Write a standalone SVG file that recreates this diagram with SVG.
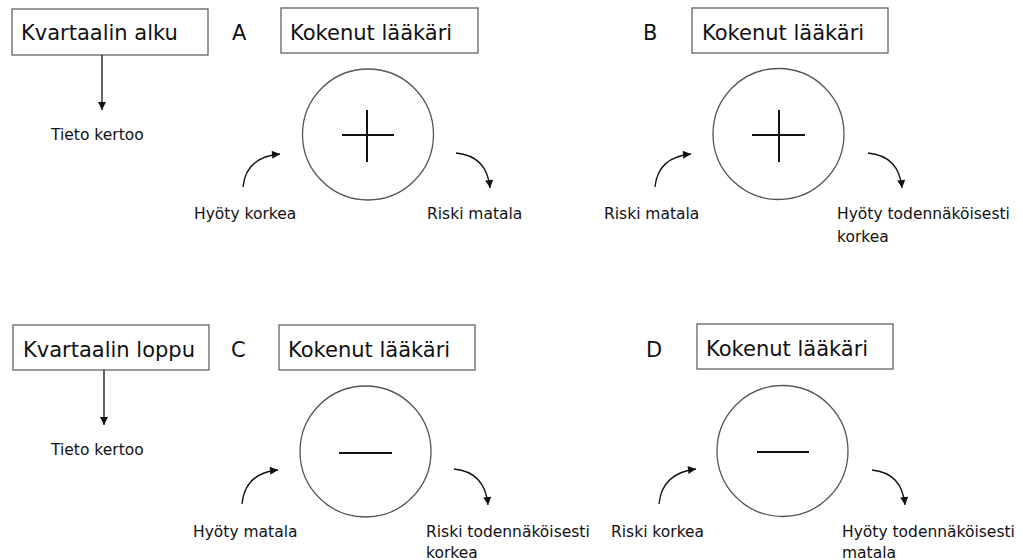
<svg xmlns="http://www.w3.org/2000/svg" width="1023" height="560" viewBox="0 0 1023 560">
<style>
.box{fill:#fff;stroke:#555;stroke-width:1.2}
.big{font-family:"DejaVu Sans",sans-serif;font-size:21px;fill:#111}
.sm{font-family:"DejaVu Sans",sans-serif;font-size:15.5px;fill:#111}
.circ{fill:#fff;stroke:#555;stroke-width:1.3}
.sym{stroke:#111;stroke-width:2;fill:none}
.conn{stroke:#111;stroke-width:1.3;fill:none;marker-end:url(#ah)}
</style>
<defs>
<marker id="ah" viewBox="0 0 10 10" refX="10" refY="5" markerUnits="userSpaceOnUse" markerWidth="9" markerHeight="8" orient="auto">
<path d="M0,0 L10,5 L0,10 z" fill="#111"/>
</marker>
</defs>
<rect width="1023" height="560" fill="#fff"/>
<g id="start-top"><rect class="box" x="12" y="9" width="196" height="46"/><text class="big" x="21" y="40">Kvartaalin alku</text></g>
<g id="start-bottom"><rect class="box" x="13" y="325" width="196" height="45"/><text class="big" x="23" y="357">Kvartaalin loppu</text></g>
<g id="info-top"><text class="sm" x="51" y="140">Tieto kertoo</text></g>
<g id="info-bottom"><text class="sm" x="51" y="455">Tieto kertoo</text></g>
<g id="label-A"><text class="big" x="232" y="40">A</text></g>
<g id="label-B"><text class="big" x="643" y="40">B</text></g>
<g id="label-C"><text class="big" x="231" y="357">C</text></g>
<g id="label-D"><text class="big" x="646" y="357">D</text></g>
<g id="doctor-A"><rect class="box" x="281" y="8" width="197" height="45"/><text class="big" x="290" y="40">Kokenut lääkäri</text></g>
<g id="doctor-B"><rect class="box" x="692" y="8" width="196" height="45"/><text class="big" x="702" y="40">Kokenut lääkäri</text></g>
<g id="doctor-C"><rect class="box" x="279" y="325" width="196" height="45"/><text class="big" x="288" y="357">Kokenut lääkäri</text></g>
<g id="doctor-D"><rect class="box" x="697" y="324" width="196" height="45"/><text class="big" x="706" y="356">Kokenut lääkäri</text></g>
<g id="circle-A"><circle class="circ" cx="368" cy="134.5" r="65.5"/><path class="sym" d="M342,135 H394 M367,110 V162"/></g>
<g id="circle-B"><circle class="circ" cx="778.5" cy="134" r="65.5"/><path class="sym" d="M752,135 H805 M779,110 V162"/></g>
<g id="circle-C"><circle class="circ" cx="365.5" cy="451.5" r="65.5"/><path class="sym" d="M339,453 H392"/></g>
<g id="circle-D"><circle class="circ" cx="782.5" cy="451" r="65.5"/><path class="sym" d="M757,452 H809"/></g>
<g id="texts-A"><text class="sm" x="194" y="219">Hyöty korkea</text><text class="sm" x="427" y="219">Riski matala</text></g>
<g id="texts-B"><text class="sm" x="604" y="219">Riski matala</text><text class="sm" x="837" y="219">Hyöty todennäköisesti</text><text class="sm" x="837" y="242">korkea</text></g>
<g id="texts-C"><text class="sm" x="193" y="537">Hyöty matala</text><text class="sm" x="426" y="537">Riski todennäköisesti</text><text class="sm" x="426" y="558">korkea</text></g>
<g id="texts-D"><text class="sm" x="611" y="537">Riski korkea</text><text class="sm" x="842" y="537">Hyöty todennäköisesti</text><text class="sm" x="842" y="558">matala</text></g>
<g id="connectors">
<path class="conn" d="M102,55 V110"/>
<path class="conn" d="M104,370 V425"/>
<path class="conn" d="M243,187 Q246,157 280,154"/>
<path class="conn" d="M456,153 Q487,156 490,188"/>
<path class="conn" d="M655,187 Q658,157 691,154"/>
<path class="conn" d="M868,153 Q899,156 902,188"/>
<path class="conn" d="M242,504 Q245,473 278,470"/>
<path class="conn" d="M454,469 Q485,472 488,505"/>
<path class="conn" d="M659,504 Q662,473 696,469"/>
<path class="conn" d="M872,470 Q902,473 905,505"/>
</g>
</svg>
